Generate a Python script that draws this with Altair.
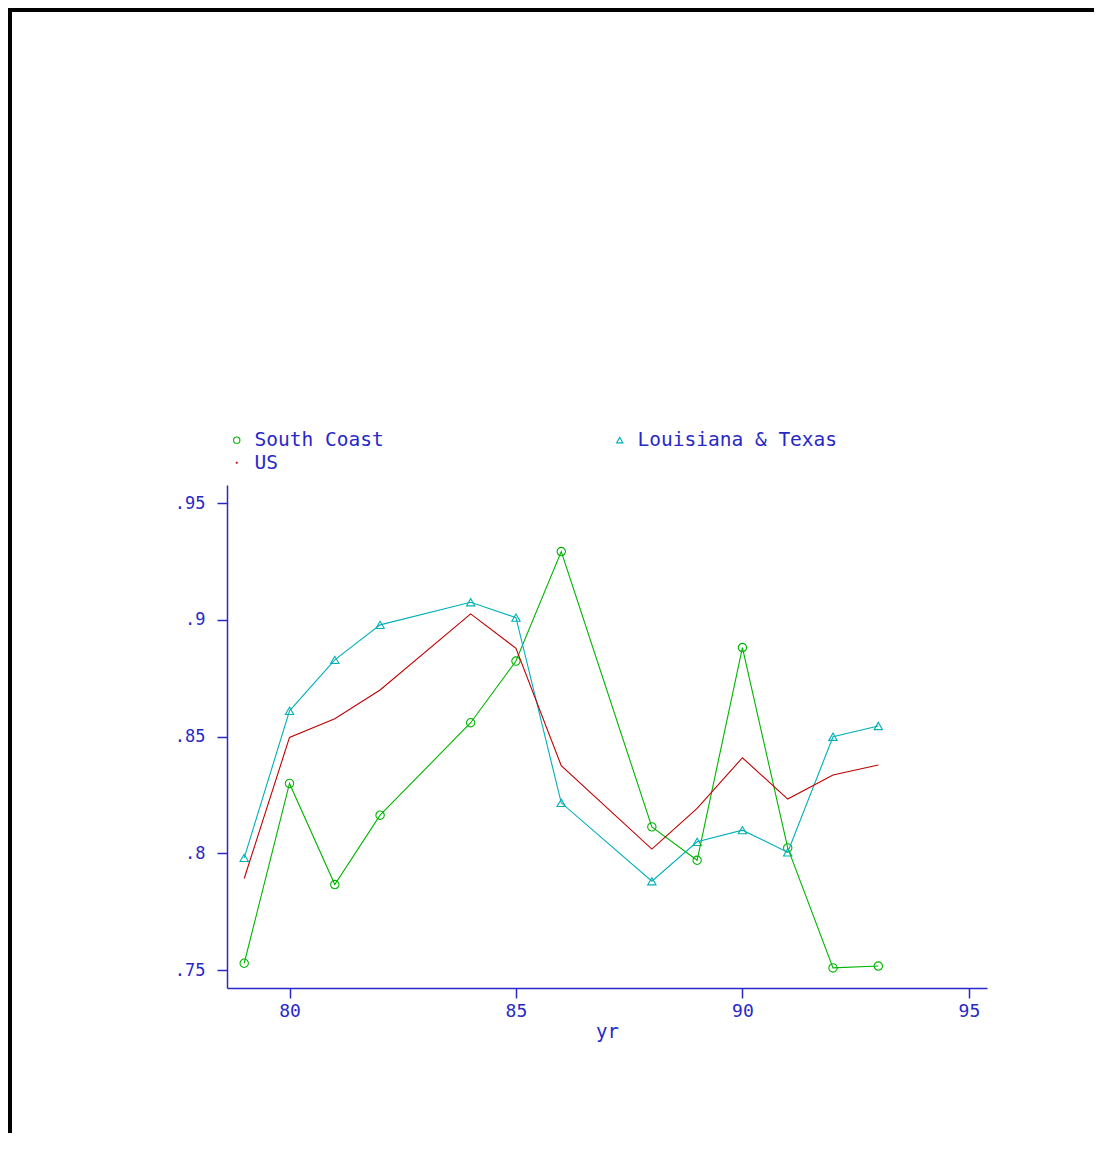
import altair as alt
import pandas as pd

years = [79, 80, 81, 82, 84, 85, 86, 88, 89, 90, 91, 92, 93]
south_coast = [0.753, 0.830, 0.7867, 0.8164, 0.856, 0.8824, 0.9293, 0.8114, 0.7971, 0.8882, 0.8024, 0.751, 0.7518]
la_tx = [0.7981, 0.8611, 0.8829, 0.8979, 0.9076, 0.901, 0.8217, 0.7881, 0.805, 0.810, 0.8005, 0.850, 0.8546]
us = [0.7893, 0.8497, 0.8577, 0.870, 0.9026, 0.8879, 0.8376, 0.8019, 0.8193, 0.841, 0.8233, 0.8336, 0.8379]

# order used by the legend (column-major fill gives: South Coast | Louisiana & Texas / US)
series_names = ["South Coast", "US", "Louisiana & Texas"]
series_colors = ["#00b400", "#c00000", "#00b0b8"]
series_shapes = ["circle", "M-0.12,-0.12L0.12,-0.12L0.12,0.12L-0.12,0.12Z", "triangle-up"]

rows = []
for name, vals in zip(["South Coast", "Louisiana & Texas", "US"], [south_coast, la_tx, us]):
    for yr, v in zip(years, vals):
        rows.append({"yr": yr, "value": v, "series": name})
df = pd.DataFrame(rows)

BLUE = "#2828c8"
FONT = "DejaVu Sans Mono"

W, H = 760, 503
PAD_L, PAD_T, PAD_R, PAD_B = 219, 477, 107, 145

x_enc = alt.X("yr:Q", scale=alt.Scale(domain=[78.62, 95.4], nice=False, zero=False),
              axis=alt.Axis(values=[80, 85, 90, 95], title="yr", format="d",
                            labelFontSize=18, titleFontSize=19, titleFontWeight="normal",
                            titlePadding=2, labelPadding=4, labelBaseline="top"))
y_enc = alt.Y("value:Q", scale=alt.Scale(domain=[0.7424, 0.9578], nice=False, zero=False),
              axis=alt.Axis(values=[0.75, 0.8, 0.85, 0.9, 0.95], title=None,
                            labelExpr="substring(format(datum.value, '~g'), 1)",
                            labelFontSize=17, labelPadding=12))

color_scale = alt.Scale(domain=series_names, range=series_colors)
shape_scale = alt.Scale(domain=series_names, range=series_shapes)

legend = alt.Legend(title=None, orient="none", legendX=0, legendY=-55,
                    columns=2, columnPadding=226, rowPadding=2,
                    symbolSize=40, symbolStrokeWidth=1.1, labelOffset=8,
                    labelFontSize=19.5, labelFont=FONT, labelColor=BLUE,
                    labelLimit=400, padding=0)

lines = alt.Chart(df).mark_line(strokeWidth=1.1).encode(
    x=x_enc, y=y_enc,
    color=alt.Color("series:N", scale=color_scale, legend=legend),
    detail="series:N",
)

points = alt.Chart(df).transform_filter(
    alt.datum.series != "US"
).mark_point(filled=False, size=70, strokeWidth=1.1, opacity=1).encode(
    x="yr:Q", y="value:Q",
    color=alt.Color("series:N", scale=color_scale, legend=legend),
    shape=alt.Shape("series:N", scale=shape_scale, legend=legend),
)

one = pd.DataFrame({"a": [0]})
left_border = alt.Chart(one).mark_rule(color="black", strokeWidth=4).encode(
    x=alt.value(-PAD_L + 2), y=alt.value(-PAD_T), y2=alt.value(H + PAD_B))
top_border = alt.Chart(one).mark_rule(color="black", strokeWidth=4).encode(
    y=alt.value(-PAD_T + 2), x=alt.value(-PAD_L), x2=alt.value(W + PAD_R))

chart = alt.layer(points, lines, left_border, top_border).properties(
    width=W, height=H,
    autosize=alt.AutoSizeParams(type="none"),
    padding={"left": PAD_L, "top": PAD_T, "right": PAD_R, "bottom": PAD_B},
).configure_view(stroke="transparent").configure_axis(
    grid=False,
    domainColor=BLUE, domainWidth=1.5,
    tickColor=BLUE, tickWidth=1.5, tickSize=10,
    labelColor=BLUE, titleColor=BLUE,
    labelFont=FONT, titleFont=FONT,
)

chart.save("out.html", embed_options={"renderer": "svg", "actions": False})
